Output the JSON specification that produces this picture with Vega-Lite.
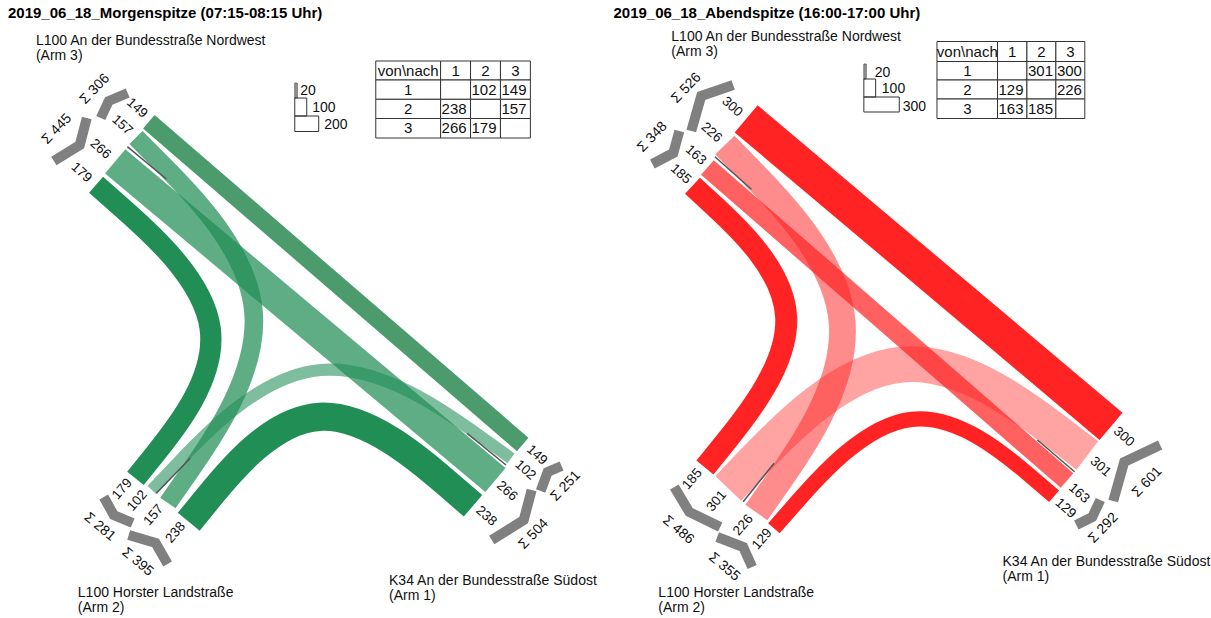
{
"$schema": "https://vega.github.io/schema/vega-lite/v6.json",
"width": 1211, "height": 618,
"autosize": {"type": "fit", "contains": "padding"},
"padding": 0,
"background": "white",
"config": {"view": {"stroke": null}, "text": {"font": "Liberation Sans", "color": "#111"}},
"datasets": {
"bands": [
{"id":"M32","v":179,"i":0,"x":96.3,"y":184.7},{"id":"M32","v":179,"i":1,"x":258,"y":327},{"id":"M32","v":179,"i":2,"x":135.8,"y":478.3},
{"id":"M21","v":238,"i":0,"x":189.2,"y":521.7},{"id":"M21","v":238,"i":1,"x":314.7,"y":368.3},{"id":"M21","v":238,"i":2,"x":474.2,"y":505.8},
{"id":"M13","v":149,"i":0,"x":149.2,"y":121.7},{"id":"M13","v":149,"i":1,"x":524,"y":444.5},
{"id":"M31","v":266,"i":0,"x":115.5,"y":161.3},{"id":"M31","v":266,"i":1,"x":496.7,"y":480},
{"id":"M23","v":157,"i":0,"x":168.3,"y":503},{"id":"M23","v":157,"i":1,"x":305,"y":307},{"id":"M23","v":157,"i":2,"x":136.3,"y":137.5},
{"id":"M12","v":102,"i":0,"x":512.3,"y":458.3},{"id":"M12","v":102,"i":1,"x":316,"y":318},{"id":"M12","v":102,"i":2,"x":152.3,"y":490},
{"id":"A32","v":185,"i":0,"x":694.2,"y":185.7},{"id":"A32","v":185,"i":1,"x":832,"y":313},{"id":"A32","v":185,"i":2,"x":706.7,"y":467.5},
{"id":"A21","v":129,"i":0,"x":775.8,"y":528.3},{"id":"A21","v":129,"i":1,"x":912.4,"y":372.9},{"id":"A21","v":129,"i":2,"x":1056.7,"y":496.3},
{"id":"A13","v":300,"i":0,"x":748,"y":118.8},{"id":"A13","v":300,"i":1,"x":1113.8,"y":426.3},
{"id":"A31","v":163,"i":0,"x":709.2,"y":167.5},{"id":"A31","v":163,"i":1,"x":1069.7,"y":480.5},
{"id":"A23","v":226,"i":0,"x":758.3,"y":512.5},{"id":"A23","v":226,"i":1,"x":895,"y":318},{"id":"A23","v":226,"i":2,"x":726.7,"y":145},
{"id":"A12","v":301,"i":0,"x":1090,"y":455.5},{"id":"A12","v":301,"i":1,"x":901,"y":311},{"id":"A12","v":301,"i":2,"x":730,"y":488.3}
],
"seps": [
{"id":"s1","i":0,"x":127.7,"y":146.7},{"id":"s1","i":1,"x":166.7,"y":179},
{"id":"s2","i":0,"x":468.3,"y":433.3},{"id":"s2","i":1,"x":507.3,"y":465},
{"id":"s3","i":0,"x":156.7,"y":493.3},{"id":"s3","i":1,"x":190.7,"y":458.3},
{"id":"s4","i":0,"x":716.7,"y":156.7},{"id":"s4","i":1,"x":753.3,"y":189.3},
{"id":"s5","i":0,"x":1040,"y":440},{"id":"s5","i":1,"x":1077.3,"y":471.7},
{"id":"s6","i":0,"x":745,"y":501.7},{"id":"s6","i":1,"x":776,"y":463.3}
],
"chevrons": [
{"id":"c1","i":0,"x":128,"y":93},{"id":"c1","i":1,"x":109,"y":101},{"id":"c1","i":2,"x":101,"y":118},
{"id":"c2","i":0,"x":87,"y":118},{"id":"c2","i":1,"x":80,"y":145},{"id":"c2","i":2,"x":54,"y":161},
{"id":"c3","i":0,"x":104,"y":497},{"id":"c3","i":1,"x":114,"y":515},{"id":"c3","i":2,"x":133,"y":523},
{"id":"c4","i":0,"x":129,"y":535},{"id":"c4","i":1,"x":156,"y":543},{"id":"c4","i":2,"x":168,"y":564},
{"id":"c5","i":0,"x":563,"y":466},{"id":"c5","i":1,"x":549,"y":472},{"id":"c5","i":2,"x":542,"y":491},
{"id":"c6","i":0,"x":533,"y":490},{"id":"c6","i":1,"x":525,"y":520},{"id":"c6","i":2,"x":493,"y":540},
{"id":"c7","i":0,"x":735,"y":85},{"id":"c7","i":1,"x":703,"y":96},{"id":"c7","i":2,"x":693,"y":131},
{"id":"c8","i":0,"x":681,"y":131},{"id":"c8","i":1,"x":675,"y":153},{"id":"c8","i":2,"x":654,"y":164},
{"id":"c9","i":0,"x":676,"y":487},{"id":"c9","i":1,"x":691,"y":512},{"id":"c9","i":2,"x":722,"y":527},
{"id":"c10","i":0,"x":719,"y":537},{"id":"c10","i":1,"x":745,"y":547},{"id":"c10","i":2,"x":754,"y":567},
{"id":"c11","i":0,"x":1163,"y":445},{"id":"c11","i":1,"x":1127,"y":462},{"id":"c11","i":2,"x":1116,"y":501},
{"id":"c12","i":0,"x":1103,"y":500},{"id":"c12","i":1,"x":1095,"y":517},{"id":"c12","i":2,"x":1079,"y":525}
],
"bandLabels": [
{"t":"149","arm":3,"x":137.5,"y":108},{"t":"157","arm":3,"x":122.5,"y":125},{"t":"266","arm":3,"x":100.8,"y":149},{"t":"179","arm":3,"x":81.7,"y":172.5},
{"t":"179","arm":2,"x":122.5,"y":489},{"t":"102","arm":2,"x":137.5,"y":500.7},{"t":"157","arm":2,"x":154,"y":515},{"t":"238","arm":2,"x":176,"y":532.5},
{"t":"149","arm":1,"x":538.3,"y":455},{"t":"102","arm":1,"x":526.7,"y":470},{"t":"266","arm":1,"x":508.3,"y":491},{"t":"238","arm":1,"x":487.5,"y":516},
{"t":"300","arm":3,"x":734,"y":106.7},{"t":"226","arm":3,"x":713.3,"y":132.5},{"t":"163","arm":3,"x":697.5,"y":155},{"t":"185","arm":3,"x":682.5,"y":174},
{"t":"185","arm":2,"x":694,"y":479},{"t":"301","arm":2,"x":718.3,"y":501},{"t":"226","arm":2,"x":745,"y":525},{"t":"129","arm":2,"x":764,"y":539},
{"t":"300","arm":1,"x":1126.7,"y":436.7},{"t":"301","arm":1,"x":1103.3,"y":466.7},{"t":"163","arm":1,"x":1081.7,"y":493.3},{"t":"129","arm":1,"x":1068.3,"y":508.3}
],
"sumLabels": [
{"t":"Σ 306","arm":3,"x":95,"y":89},{"t":"Σ 445","arm":3,"x":57,"y":129},
{"t":"Σ 281","arm":2,"x":100,"y":527},{"t":"Σ 395","arm":2,"x":138,"y":562},
{"t":"Σ 251","arm":1,"x":567,"y":486},{"t":"Σ 504","arm":1,"x":535,"y":534},
{"t":"Σ 526","arm":3,"x":688,"y":88},{"t":"Σ 348","arm":3,"x":654,"y":137},
{"t":"Σ 486","arm":2,"x":680,"y":530},{"t":"Σ 355","arm":2,"x":726,"y":567},
{"t":"Σ 601","arm":1,"x":1150,"y":482},{"t":"Σ 292","arm":1,"x":1106,"y":528}
],
"titles": [
{"t":"2019_06_18_Morgenspitze (07:15-08:15 Uhr)","x":8,"y":18},
{"t":"2019_06_18_Abendspitze (16:00-17:00 Uhr)","x":615,"y":18}
],
"armNames": [
{"t":"L100 An der Bundesstraße Nordwest","x":36,"y":45},{"t":"(Arm 3)","x":36,"y":60},
{"t":"L100 Horster Landstraße","x":78,"y":597},{"t":"(Arm 2)","x":78,"y":612},
{"t":"K34 An der Bundesstraße Südost","x":390,"y":585},{"t":"(Arm 1)","x":390,"y":600},
{"t":"L100 An der Bundesstraße Nordwest","x":673,"y":41},{"t":"(Arm 3)","x":673,"y":56},
{"t":"L100 Horster Landstraße","x":660,"y":597},{"t":"(Arm 2)","x":660,"y":612},
{"t":"K34 An der Bundesstraße Südost","x":1005,"y":566},{"t":"(Arm 1)","x":1005,"y":581}
],
"legendBoxes": [
{"v":20,"x":295.5,"x2":298,"y":83,"y2":98},{"v":100,"x":295.5,"x2":307.5,"y":98,"y2":116},{"v":200,"x":295.5,"x2":319.5,"y":116,"y2":131.5},
{"v":20,"x":866,"x2":868.4,"y":64,"y2":79},{"v":100,"x":866,"x2":877.8,"y":79,"y2":97},{"v":300,"x":866,"x2":901.5,"y":97,"y2":112}
],
"legendText": [
{"t":"20","x":301,"y":91},{"t":"100","x":313,"y":108},{"t":"200","x":325,"y":124.5},
{"t":"20","x":877,"y":72.5},{"t":"100","x":884,"y":88.5},{"t":"300","x":905,"y":107}
],
"cells": [
{"x":376.7,"x2":441.7,"y":61,"y2":80},{"x":441.7,"x2":471.7,"y":61,"y2":80},{"x":471.7,"x2":501.7,"y":61,"y2":80},{"x":501.7,"x2":531.7,"y":61,"y2":80},
{"x":376.7,"x2":441.7,"y":80,"y2":99.3},{"x":441.7,"x2":471.7,"y":80,"y2":99.3},{"x":471.7,"x2":501.7,"y":80,"y2":99.3},{"x":501.7,"x2":531.7,"y":80,"y2":99.3},
{"x":376.7,"x2":441.7,"y":99.3,"y2":118.5},{"x":441.7,"x2":471.7,"y":99.3,"y2":118.5},{"x":471.7,"x2":501.7,"y":99.3,"y2":118.5},{"x":501.7,"x2":531.7,"y":99.3,"y2":118.5},
{"x":376.7,"x2":441.7,"y":118.5,"y2":138},{"x":441.7,"x2":471.7,"y":118.5,"y2":138},{"x":471.7,"x2":501.7,"y":118.5,"y2":138},{"x":501.7,"x2":531.7,"y":118.5,"y2":138},
{"x":939.3,"x2":1000,"y":41.5,"y2":61.5},{"x":1000,"x2":1029.5,"y":41.5,"y2":61.5},{"x":1029.5,"x2":1058.5,"y":41.5,"y2":61.5},{"x":1058.5,"x2":1087.5,"y":41.5,"y2":61.5},
{"x":939.3,"x2":1000,"y":61.5,"y2":80},{"x":1000,"x2":1029.5,"y":61.5,"y2":80},{"x":1029.5,"x2":1058.5,"y":61.5,"y2":80},{"x":1058.5,"x2":1087.5,"y":61.5,"y2":80},
{"x":939.3,"x2":1000,"y":80,"y2":99},{"x":1000,"x2":1029.5,"y":80,"y2":99},{"x":1029.5,"x2":1058.5,"y":80,"y2":99},{"x":1058.5,"x2":1087.5,"y":80,"y2":99},
{"x":939.3,"x2":1000,"y":99,"y2":118.5},{"x":1000,"x2":1029.5,"y":99,"y2":118.5},{"x":1029.5,"x2":1058.5,"y":99,"y2":118.5},{"x":1058.5,"x2":1087.5,"y":99,"y2":118.5}
],
"cellText": [
{"t":"von\\nach","k":"c","x":409.2,"y":70.5},{"t":"1","k":"c","x":456.7,"y":70.5},{"t":"2","k":"c","x":486.7,"y":70.5},{"t":"3","k":"c","x":516.7,"y":70.5},
{"t":"1","k":"c","x":409.2,"y":89.7},{"t":"2","k":"c","x":409.2,"y":108.9},{"t":"3","k":"c","x":409.2,"y":128.2},
{"t":"102","k":"l","x":472.7,"y":89.7},{"t":"149","k":"l","x":502.7,"y":89.7},
{"t":"238","k":"l","x":442.7,"y":108.9},{"t":"157","k":"l","x":502.7,"y":108.9},
{"t":"266","k":"l","x":442.7,"y":128.2},{"t":"179","k":"l","x":472.7,"y":128.2},
{"t":"von\\nach","k":"c","x":969.7,"y":51.5},{"t":"1","k":"c","x":1014.8,"y":51.5},{"t":"2","k":"c","x":1044,"y":51.5},{"t":"3","k":"c","x":1073,"y":51.5},
{"t":"1","k":"c","x":969.7,"y":70.8},{"t":"2","k":"c","x":969.7,"y":89.5},{"t":"3","k":"c","x":969.7,"y":108.8},
{"t":"301","k":"l","x":1030.5,"y":70.8},{"t":"300","k":"l","x":1059.5,"y":70.8},
{"t":"129","k":"l","x":1001,"y":89.5},{"t":"226","k":"l","x":1059.5,"y":89.5},
{"t":"163","k":"l","x":1001,"y":108.8},{"t":"185","k":"l","x":1030.5,"y":108.8}
]
},
"encoding": {
"x": {"field": "x", "type": "quantitative", "scale": {"domain": [0, 1211], "nice": false, "zero": false}, "axis": null},
"y": {"field": "y", "type": "quantitative", "scale": {"domain": [0, 618], "nice": false, "zero": false, "reverse": true}, "axis": null}
},
"layer": [
{"data": {"name": "bands"},
 "mark": {"type": "line", "interpolate": "basis", "strokeCap": "butt"},
 "encoding": {
  "detail": {"field": "id"},
  "order": {"field": "i", "type": "quantitative"},
  "color": {"field": "id", "type": "nominal", "legend": null,
   "scale": {"domain": ["M32","M21","M13","M31","M23","M12","A32","A21","A13","A31","A23","A12"],
    "range": ["#218e56","#218e56","#4b9b6c","rgba(33,142,86,0.72)","rgba(33,142,86,0.72)","rgba(33,142,86,0.58)","#ff2323","#ff2323","#ff2323","rgba(255,35,35,0.72)","rgba(255,35,35,0.52)","rgba(255,35,35,0.42)"]}},
  "strokeWidth": {"field": "v", "type": "quantitative", "legend": null, "scale": {"domain": [0, 300], "range": [0, 35.6]}}
 }},
{"data": {"name": "seps"},
 "mark": {"type": "line", "stroke": "#555", "strokeWidth": 1.5},
 "encoding": {"detail": {"field": "id"}, "order": {"field": "i", "type": "quantitative"}}},
{"data": {"name": "chevrons"},
 "mark": {"type": "line", "stroke": "#808080", "strokeWidth": 10, "strokeJoin": "miter", "strokeCap": "butt"},
 "encoding": {"detail": {"field": "id"}, "order": {"field": "i", "type": "quantitative"}}},
{"data": {"name": "bandLabels"}, "transform": [{"filter": "datum.arm != 2"}],
 "mark": {"type": "text", "fontSize": 13.5, "angle": 42, "align": "center", "baseline": "middle"},
 "encoding": {"text": {"field": "t"}}},
{"data": {"name": "bandLabels"}, "transform": [{"filter": "datum.arm == 2"}],
 "mark": {"type": "text", "fontSize": 13.5, "angle": 311, "align": "center", "baseline": "middle"},
 "encoding": {"text": {"field": "t"}}},
{"data": {"name": "sumLabels"}, "transform": [{"filter": "datum.arm != 2"}],
 "mark": {"type": "text", "fontSize": 14, "angle": 314, "align": "center", "baseline": "middle"},
 "encoding": {"text": {"field": "t"}}},
{"data": {"name": "sumLabels"}, "transform": [{"filter": "datum.arm == 2"}],
 "mark": {"type": "text", "fontSize": 14, "angle": 40, "align": "center", "baseline": "middle"},
 "encoding": {"text": {"field": "t"}}},
{"data": {"name": "titles"},
 "mark": {"type": "text", "fontSize": 15, "fontWeight": "bold", "align": "left", "baseline": "alphabetic", "color": "#000"},
 "encoding": {"text": {"field": "t"}}},
{"data": {"name": "armNames"},
 "mark": {"type": "text", "fontSize": 14, "align": "left", "baseline": "alphabetic"},
 "encoding": {"text": {"field": "t"}}},
{"data": {"name": "legendBoxes"}, "transform": [{"filter": "datum.v == 20"}],
 "mark": {"type": "rect", "fill": "#9a9a9a", "stroke": "#555", "strokeWidth": 0.8},
 "encoding": {"x2": {"field": "x2"}, "y2": {"field": "y2"}}},
{"data": {"name": "legendBoxes"}, "transform": [{"filter": "datum.v != 20"}],
 "mark": {"type": "rect", "fill": "white", "fillOpacity": 0, "stroke": "#333", "strokeWidth": 1},
 "encoding": {"x2": {"field": "x2"}, "y2": {"field": "y2"}}},
{"data": {"name": "legendText"},
 "mark": {"type": "text", "fontSize": 14, "align": "left", "baseline": "middle"},
 "encoding": {"text": {"field": "t"}}},
{"data": {"name": "cells"},
 "mark": {"type": "rect", "fill": "white", "stroke": "#333", "strokeWidth": 1},
 "encoding": {"x2": {"field": "x2"}, "y2": {"field": "y2"}}},
{"data": {"name": "cellText"}, "transform": [{"filter": "datum.k == 'c'"}],
 "mark": {"type": "text", "fontSize": 15, "align": "center", "baseline": "middle"},
 "encoding": {"text": {"field": "t"}}},
{"data": {"name": "cellText"}, "transform": [{"filter": "datum.k == 'l'"}],
 "mark": {"type": "text", "fontSize": 15, "align": "left", "baseline": "middle"},
 "encoding": {"text": {"field": "t"}}}
]
}
